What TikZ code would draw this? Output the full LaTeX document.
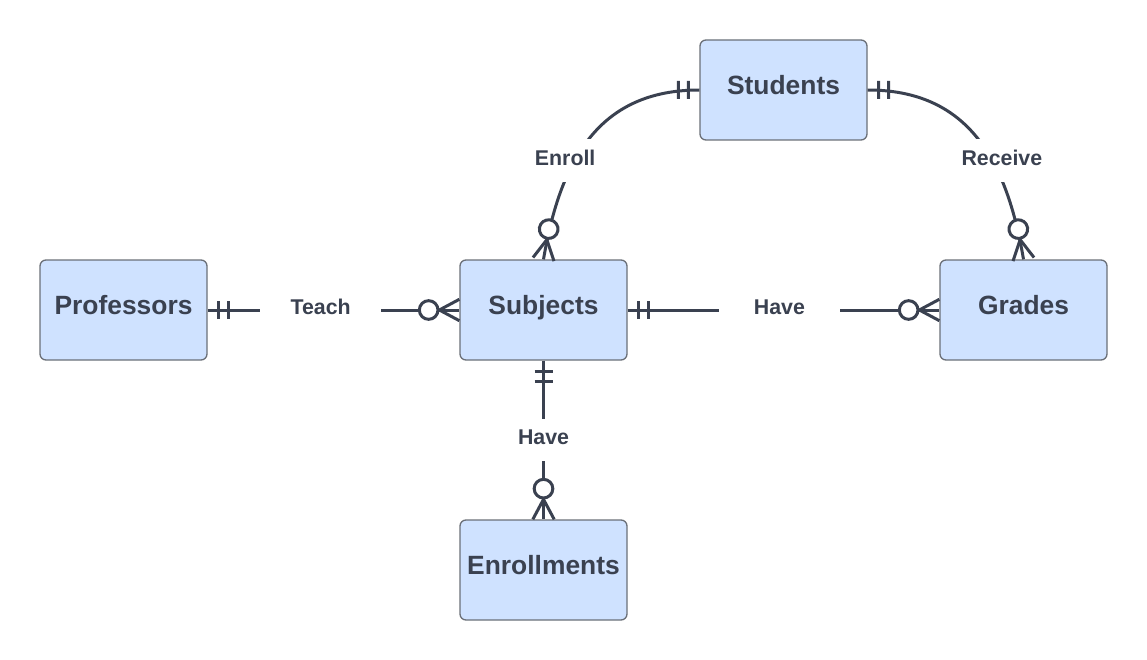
\documentclass[tikz,border=0pt]{standalone}
\usepackage{fontspec}
\setmainfont{Liberation Sans}
\usetikzlibrary{decorations.markings}
\definecolor{inkgray}{HTML}{3A4150}
\definecolor{boxblue}{HTML}{CFE2FF}
\definecolor{boxedge}{HTML}{6B7078}
\tikzset{
  entity/.style={draw=boxedge, fill=boxblue, line width=1pt, rounded corners=4.5pt,
    minimum width=125.25pt, minimum height=75pt, inner sep=0pt, text=inkgray,
    text height=14.2pt, text depth=7.5pt,
    font=\bfseries\fontsize{19.8}{22}\selectfont},
  rellabel/.style={fill=white, minimum width=91pt, minimum height=32pt, inner sep=0pt,
    text=inkgray, text height=11.5pt, text depth=4.5pt,
    font=\bfseries\fontsize{16}{18}\selectfont},
  onemany/.style={draw=inkgray, line width=2.25pt,
    postaction={decorate, decoration={markings,
      mark=at position 0 with {\draw[inkgray, line width=2.25pt]
        (8.25pt,-6.75pt) -- (8.25pt,6.75pt) (15.75pt,-6.75pt) -- (15.75pt,6.75pt);},
      mark=at position -0.5pt with {\draw[inkgray, line width=2.25pt]
        (-14.5pt,0pt) -- (0.5pt,8pt) (-14.5pt,0pt) -- (0.5pt,-8pt);
        \draw[inkgray, line width=2.25pt, fill=white] (-22.5pt,0pt) circle[radius=7pt];}}}}
}
\begin{document}
\begin{tikzpicture}[x=0.75pt, y=-0.75pt]
\useasboundingbox (0,0) rectangle (1147,660);
% entities
\foreach \name/\x/\y/\txt in {stud/783.5/90/Students, prof/123.5/310/Professors,
  subj/543.5/310/Subjects, grad/1023.5/310/Grades, enrl/543.5/570/Enrollments}
  \node[entity] (\name) at (\x,\y) {\txt};
% relationships
\draw[onemany] (stud.west) .. controls +(-100,0) and +(17,-100) .. node[rellabel, pos=0.62, xshift=-7pt] {Enroll} (subj.north);
\draw[onemany] (stud.east) .. controls +(100,0) and +(-17,-100) .. node[rellabel, pos=0.62, xshift=7pt] {Receive} (grad.north);
\draw[onemany] (prof.east) -- node[rellabel, pos=0.449] {Teach} (subj.west);
\draw[onemany] (subj.east) -- node[rellabel, pos=0.487] {Have} (grad.west);
\draw[onemany] (subj.south) -- node[rellabel] {Have} (enrl.north);
\end{tikzpicture}
\end{document}
